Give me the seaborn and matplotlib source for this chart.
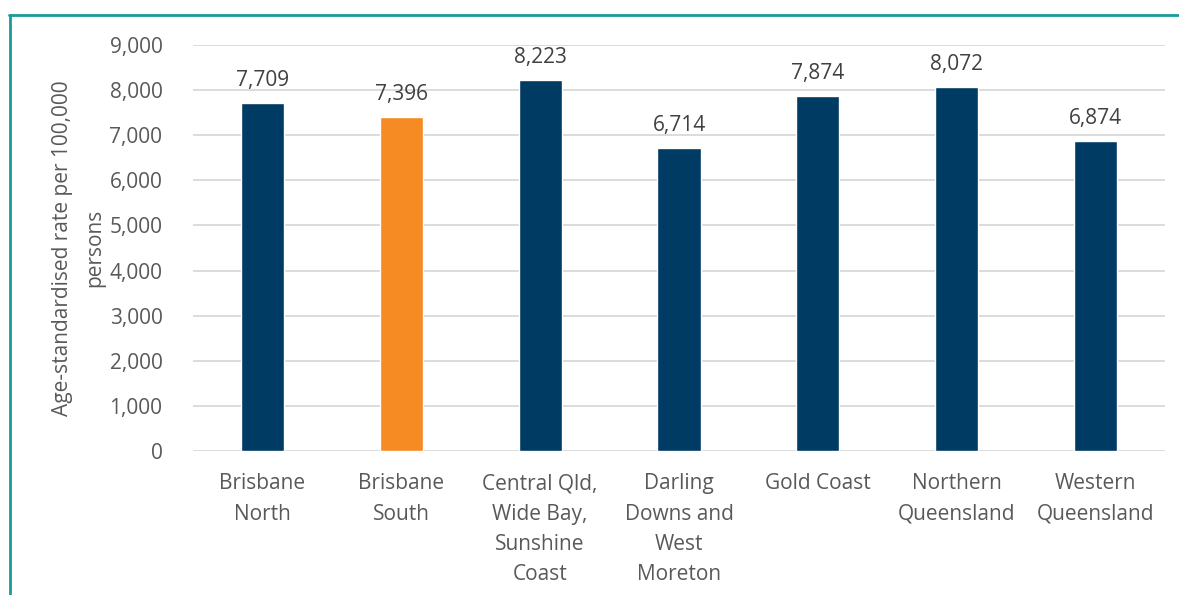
import seaborn as sns
import pandas as pd
import numpy as np
from matplotlib import pyplot as plt
from matplotlib.lines import Line2D

regions = ['Brisbane\nNorth', 'Brisbane\nSouth', 'Central Qld,\nWide Bay,\nSunshine\nCoast',
           'Darling\nDowns and\nWest\nMoreton', 'Gold Coast', 'Northern\nQueensland', 'Western\nQueensland']
rates = [7709, 7396, 8223, 6714, 7874, 8072, 6874]
highlight = 'Brisbane\nSouth'

navy = '#003B64'
orange = '#F58B22'
grey = '#595959'

sns.set_style('white')
plt.rcParams['font.family'] = ['Open Sans', 'DejaVu Sans']

df = pd.DataFrame({'region': regions, 'rate': rates})
colors = [orange if r == highlight else navy for r in regions]

fig = plt.figure(figsize=(11.79, 5.95), dpi=100)
ax = fig.add_axes([193 / 1179, 1 - 451 / 595, (1165 - 193) / 1179, (451 - 45) / 595])
sns.barplot(data=df, x='region', y='rate', hue='region', palette=colors, legend=False,
            width=0.31, saturation=1, ax=ax, zorder=3)

ax.set_ylim(0, 9000)
ax.set_xlim(-0.5, len(regions) - 0.5)
ax.set_yticks(np.arange(0, 9001, 1000))
ax.set_yticklabels(['{:,}'.format(v) for v in range(0, 9001, 1000)])
ax.yaxis.grid(True, color='#D9D9D9', linewidth=1.3, zorder=0)
ax.xaxis.grid(False)
for s in ax.spines.values():
    s.set_visible(False)
ax.tick_params(axis='both', length=0, labelsize=15, colors=grey)
ax.tick_params(axis='x', pad=16)
ax.tick_params(axis='y', pad=22)
plt.setp(ax.get_xticklabels(), linespacing=1.58, va='top')
ax.set_xlabel('')
ax.set_ylabel('Age-standardised rate per 100,000\npersons', fontsize=15, color=grey,
              linespacing=1.75)
ax.yaxis.set_label_coords(-0.09, 0.5)

for i, v in enumerate(rates):
    ax.text(i, v + 270, '{:,}'.format(v), ha='center', va='bottom', fontsize=15, color='#404040')

# teal frame (top and left edges visible)
fig.add_artist(Line2D([9 / 1179, 1], [1 - 15 / 595, 1 - 15 / 595], color='#1A9A9A', linewidth=2,
                      transform=fig.transFigure))
fig.add_artist(Line2D([10 / 1179, 10 / 1179], [1 - 15 / 595, 0], color='#1A9A9A', linewidth=2,
                      transform=fig.transFigure))

plt.savefig('out.png', dpi=100)
